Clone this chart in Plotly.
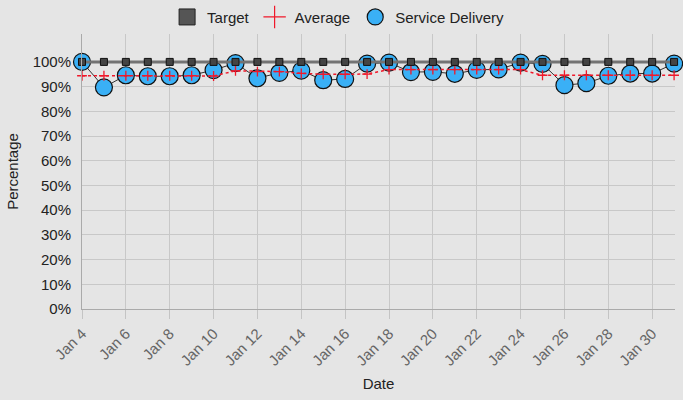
import pandas as pd
import plotly.graph_objects as go

dates = pd.date_range("2021-01-04", "2021-01-31", freq="D")

service = [100, 89.7, 94.6, 94.2, 94.2, 94.6, 96.7,
           99.5, 93.4, 95.6, 96.5, 92.6, 93.1, 99.3,
           99.7, 95.9, 96.0, 95.2, 96.8, 97.0, 99.7,
           99.2, 90.6, 91.4, 94.4, 95.3, 95.3, 99.3]
average = [94.4, 94.4, 94.4, 94.4, 94.4, 94.4, 94.3,
           96.4, 96.1, 96.1, 95.4, 95.0, 95.0, 95.1,
           96.9, 96.9, 96.9, 96.9, 96.9, 96.9, 96.9,
           94.6, 94.6, 94.6, 94.6, 94.6, 94.6, 94.6]
target = [100] * len(dates)
pct_ticks = list(range(0, 101, 10))

font = "Arial, Liberation Sans, sans-serif"
blue = "#3ab0f6"
red = "#f0182a"

fig = go.Figure()

# plotted series (legend handled by marker-only entries below)
fig.add_trace(go.Scatter(
    x=dates, y=service, mode="lines+markers", name="Service Delivery",
    line=dict(color="#333333", width=1),
    marker=dict(symbol="circle", size=17, color=blue,
                line=dict(color="#111111", width=1.2)),
    cliponaxis=False, showlegend=False))
fig.add_trace(go.Scatter(
    x=dates, y=average, mode="lines+markers", name="Average",
    line=dict(color=red, width=1.5, dash="dot"),
    marker=dict(symbol="cross-thin", size=7, color=red,
                line=dict(color=red, width=1.3)),
    cliponaxis=False, showlegend=False))
fig.add_trace(go.Scatter(
    x=dates, y=target, mode="lines+markers", name="Target",
    line=dict(color="#737373", width=3),
    marker=dict(symbol="square", size=7, color="#444444",
                line=dict(color="#111111", width=1)),
    cliponaxis=False, showlegend=False))

# legend entries
fig.add_trace(go.Scatter(
    x=[None], y=[None], mode="markers", name="Target",
    marker=dict(symbol="square", size=16, color="#555555",
                line=dict(color="#222222", width=1))))
fig.add_trace(go.Scatter(
    x=[None], y=[None], mode="markers", name="Average",
    marker=dict(symbol="cross-thin", size=16, color=red,
                line=dict(color=red, width=1.2))))
fig.add_trace(go.Scatter(
    x=[None], y=[None], mode="markers", name="Service Delivery",
    marker=dict(symbol="circle", size=16, color=blue,
                line=dict(color="#111111", width=1.2))))

fig.update_layout(
    width=683, height=400,
    margin=dict(l=82, r=8, t=34, b=91, autoexpand=False),
    paper_bgcolor="#e5e5e5", plot_bgcolor="#e5e5e5",
    font=dict(family=font, size=15, color="#222222"),
    legend=dict(orientation="h", xref="container", yref="container",
                x=0.495, xanchor="center", y=0.957, yanchor="middle",
                font=dict(size=15, color="#222222"),
                itemsizing="trace", bgcolor="rgba(0,0,0,0)"),
)
fig.update_xaxes(
    range=[pd.Timestamp("2021-01-04"), pd.Timestamp("2021-01-31 01:00")],
    tickmode="array", tickvals=dates[::2],
    ticktext=[d.strftime("%b ") + str(d.day) for d in dates[::2]],
    tickangle=-45, tickfont=dict(size=15, color="#666666"),
    showgrid=True, gridcolor="#c8c8c8", gridwidth=1,
    showline=True, linecolor="#aaaaaa", linewidth=1,
    ticks="outside", ticklen=9, tickcolor="#c4c4c4",
    zeroline=False, automargin=False,
    title=dict(text="Date", font=dict(size=15, color="#222222"), standoff=10),
)
fig.update_yaxes(
    range=[0, 111.3], tickmode="array", tickvals=pct_ticks,
    ticktext=[f"{v}%" for v in pct_ticks],
    tickfont=dict(size=15, color="#222222"),
    showgrid=True, gridcolor="#c8c8c8", gridwidth=1,
    showline=True, linecolor="#aaaaaa", linewidth=1,
    ticks="outside", ticklen=7, tickcolor="rgba(0,0,0,0)",
    zeroline=False, automargin=False,
    title=dict(text="Percentage", font=dict(size=15, color="#222222"), standoff=10),
)

# page margin off so the 683x400 figure fills the window
fig.write_html("out.html", config={"displayModeBar": False},
               post_script="document.body.style.margin='0';")
